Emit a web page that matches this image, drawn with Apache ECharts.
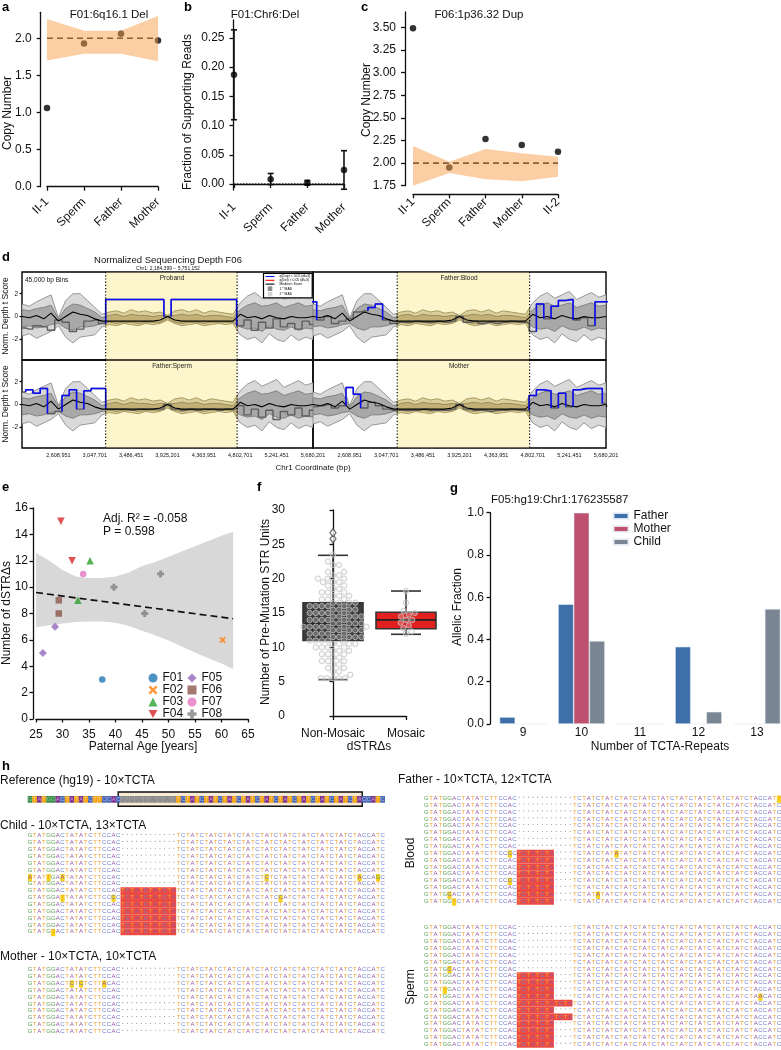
<!DOCTYPE html>
<html>
<head>
<meta charset="utf-8">
<title>Figure</title>
<script src="https://cdn.jsdelivr.net/npm/echarts@6/dist/echarts.min.js"></script>
<style>
html,body{margin:0;padding:0;background:#ffffff;}
#chart{width:781px;height:1050px;}
</style>
</head>
<body>
<div id="chart"></div>
<script>
// ================= DATA =================
// ---- panel a ----
const aCats = ['II-1', 'Sperm', 'Father', 'Mother'];
const aCopyNumber = [1.06, 1.93, 2.06, 1.97];
const aBandLow = [1.70, 1.79, 1.79, 1.69];
const aBandHigh = [2.26, 2.10, 2.10, 2.30];
const aExpected = [2, 2, 2, 2];
const aTicks = [0, 0.5, 1.0, 1.5, 2.0];
// ---- panel b ----
const bCats = ['II-1', 'Sperm', 'Father', 'Mother'];
const bFraction = [0.187, 0.008, 0.002, 0.024];
const bErrLow = [0.110, -0.001, -0.002, -0.009];
const bErrHigh = [0.264, 0.018, 0.006, 0.057];
const bBaseline = [0, 0, 0, 0];
const bTicks = [0, 0.05, 0.10, 0.15, 0.20, 0.25];
// ---- panel c ----
const cCats = ['II-1', 'Sperm', 'Father', 'Mother', 'II-2'];
const cCopyNumber = [3.49, 1.95, 2.265, 2.20, 2.125];
const cBandLow = [1.75, 1.89, 1.82, 1.80, 1.85];
const cBandHigh = [2.19, 2.015, 2.155, 2.11, 2.07];
const cExpected = [2, 2, 2, 2, 2];
const cTicks = [1.75, 2.00, 2.25, 2.50, 2.75, 3.00, 3.25, 3.50];
// ---- panel d (45 kb bins, shown every 2nd bin) ----
const dOriginBp = 2170201;
const dBinStep = 87750;
const dTickStep = 438750;
const dSpan = 3510000;
const dYellowBp = [3179000, 4765000];
const dTicksY = [-2, 0, 2];
const dMad2High = [1.1,0.9,1.3,1.6,1.9,-0.1,1.4,2.0,2.0,1.4,0.8,0.2,
  0.4,0.5,0.3,0.6,0.4,0.5,0.3,0.4,0.1,0.5,0.6,0.4,0.6,0.3,0.5,0.4,0.3,0.2,
  1.2,1.8,2.1,1.6,1.9,2.2,1.5,1.8,2.1,1.7,1.9];
const dMad2Low = [-1.7,-1.5,-1.9,-1.6,-1.3,-0.8,-1.8,-2.3,-1.8,-1.7,-1.6,-0.9,
  -0.7,-0.8,-0.6,-0.7,-0.8,-0.6,-0.7,-0.6,-0.3,-0.6,-0.8,-0.7,-0.6,-0.8,-0.7,-0.6,-0.7,-0.6,
  -1.6,-2.0,-1.8,-2.3,-1.5,-2.0,-2.2,-1.6,-2.1,-1.8,-2.0];
const dMad1High = [0.6,0.5,0.7,0.8,1.0,-0.2,0.7,1.1,1.0,0.7,0.4,-0.1,
  0.1,0.2,0.0,0.2,0.1,0.1,0.0,0.1,0.05,0.1,0.2,0.1,0.2,0.0,0.1,0.1,0.0,-0.1,
  0.6,1.0,1.2,0.9,1.0,1.2,0.8,1.0,1.2,0.9,1.0];
const dMad1Low = [-0.9,-0.8,-1.0,-0.9,-0.7,-0.6,-1.0,-1.2,-0.9,-0.9,-0.8,-0.6,
  -0.5,-0.6,-0.5,-0.5,-0.6,-0.5,-0.5,-0.5,-0.15,-0.5,-0.6,-0.5,-0.5,-0.6,-0.5,-0.5,-0.5,-0.5,
  -0.9,-1.1,-1.0,-1.3,-0.8,-1.1,-1.2,-0.9,-1.2,-1.0,-1.1];
const dMedian = [0.0,-0.1,0.1,-0.2,0.3,-0.4,0.0,0.4,0.2,0.1,-0.2,-0.4,
  -0.4,-0.4,-0.4,-0.4,-0.4,-0.4,-0.4,-0.3,0.0,-0.3,-0.4,-0.4,-0.4,-0.4,-0.4,-0.4,-0.4,-0.4,
  0.2,-0.1,0.0,-0.2,0.1,-0.1,-0.2,0.0,-0.1,-0.1,0.0];
const dProband = [-1.0,-1.1,-0.8,-0.9,-1.2,-0.3,-0.5,-1.3,-1.1,-0.4,-0.3,-0.6,
  1.5,1.5,1.5,1.5,1.5,1.5,1.5,1.5,0.0,1.5,1.5,1.5,1.5,1.5,1.5,1.5,1.5,1.5,
  -0.8,-0.3,-1.2,-0.5,-1.0,-0.2,-0.9,-0.6,-1.1,-0.4,-0.7];
const dBlood = [1.3,-0.3,0.0,-0.6,-0.4,-0.2,0.4,0.5,0.8,1.1,-0.3,-0.6,
  -0.5,-0.5,-0.4,-0.5,-0.5,-0.4,-0.5,-0.4,0.0,-0.5,-0.4,-0.6,-0.5,-0.6,-0.5,-0.4,-0.5,-0.5,
  -1.3,1.1,-0.2,0.9,1.4,1.5,-0.3,-0.1,-0.8,1.3,1.3];
const dSperm = [1.1,1.3,1.0,1.4,-0.8,-0.6,0.8,1.3,-0.4,1.2,1.4,1.4,
  -0.4,-0.4,-0.4,-0.5,-0.4,-0.4,-0.4,-0.4,0.0,-0.4,-0.5,-0.4,-0.5,-0.4,-0.4,-0.5,-0.4,-0.4,
  -0.1,-0.9,-0.4,-1.1,-0.5,-1.3,-0.6,-0.9,-0.3,-1.0,-0.5];
const dMother = [-0.2,-0.1,0.0,-0.3,-0.1,1.5,0.9,-0.3,0.2,-0.1,-0.4,-0.5,
  -0.5,-0.5,-0.5,-0.4,-0.5,-0.5,-0.5,-0.4,0.0,-0.4,-0.5,-0.5,-0.6,-0.5,-0.5,-0.4,-0.5,-0.5,
  0.8,1.3,1.2,-0.3,1.0,-0.2,1.3,1.4,1.4,1.4,0.1];
const dDupProband = [[12,19],[21,29]];
const dDupBlood = [[0,0],[8,9],[31,31],[33,35],[39,40]];
const dDupSperm = [[1,3],[6,7],[9,11]];
const dDupMother = [[5,6],[30,32],[34,34],[36,39]];
// ---- panel e ----
const eF01 = [[37.5, 3]];
const eF02 = [[60.2, 6]];
const eF03 = [[35.2, 12], [32.9, 9]];
const eF04 = [[29.7, 15], [31.8, 12]];
const eF05 = [[26.3, 5], [28.6, 7]];
const eF06 = [[29.3, 9], [29.3, 8]];
const eF07 = [[33.9, 11]];
const eF08 = [[39.7, 10], [45.5, 8], [48.5, 11]];
const eFitAge = [25, 62.2];
const eFitCount = [9.59, 7.6];
const eCiAge = [25, 27.5, 30, 32.5, 35, 37.5, 40, 42.5, 45, 47.5, 50, 52.5, 55, 57.5, 60, 62.2];
const eCiHigh = [12.6, 12.0, 11.3, 10.8, 10.7, 10.7, 10.8, 11.1, 11.6, 11.9, 12.3, 12.7, 13.1, 13.5, 13.9, 14.2];
const eCiLow = [6.95, 7.1, 7.25, 7.35, 7.4, 7.4, 7.3, 7.05, 6.7, 6.35, 5.95, 5.5, 5.05, 4.6, 4.2, 3.8];
// ---- panel f ----
const fCats = ['Non-Mosaic', 'Mosaic'];
const fNonMosaic = [5.5,5.5,5.5,5.5,5.5,6,6.5,6.5,7,7,7.5,7.5,8,8,8,8.5,8.5,9,9,9,9.5,9.5,9.5,
  10,10,10,10,10.5,10.5,10.5,10.5,11,11,11,11,11,11.5,11.5,11.5,11.5,11.5,12,12,12,12,12,
  12.5,12.5,12.5,12.5,12.5,13,13,13,13,13,13,13,13.5,13.5,13.5,13.5,13.5,14,14,14,14,14,
  14.5,14.5,14.5,14.5,14.5,15,15,15,15,15,15.5,15.5,15.5,15.5,16,16,16,16,16,16.5,16.5,16.5,16.5,
  17,17,17,17.5,17.5,17.5,18,18,18,18.5,18.5,19,19,19.5,19.5,19.5,20,20,20,20.5,20.5,21,21,22,22,22.5,23.5];
const fMosaic = [12.0, 12.3, 12.8, 13.2, 13.6, 14.0, 14.0, 14.5, 14.8, 15.0, 15.3, 16.5, 18.2];
const fBoxNonMosaic = [5.3, 11.0, 13.4, 16.5, 23.4];   // whisker low, Q1, median, Q3, whisker high
const fBoxMosaic = [11.9, 12.7, 14.0, 15.1, 18.2];
const fOutliers = [25.8, 26.7];
// ---- panel g ----
const gRepeats = ['9', '10', '11', '12', '13'];
const gFather = [0.033, 0.567, 0, 0.366, 0];
const gMother = [0, 1.0, 0, 0, 0];
const gChild = [0, 0.393, 0, 0.058, 0.545];
// ---- panel h ----
const hLeft = 'GTATGGACTATATCTTCCAC';
const hInsert = 'TCTATCTATCTA';
const hRepeat = 'TCTATCTATCTATCTATCTATCTATCTATCTATCTATCTA';
const hRight = 'CCATC';
const hChildIns = [0,0,0,0,0,0,0,0,12,12,12,12,12,12,12];
const hMotherIns = [0,0,0,0,0,0,0,0,0,0];
const hBloodIns = [0,0,0,0,0,0,0,0,8,8,8,8,8,8,8,8];
const hSpermIns = [0,0,0,0,0,0,0,8,8,8,8,12,8,12,8,8,8,8];
const hChildMis = [[6,0,'A'],[6,4,'T'],[6,7,'A'],[6,51,'C'],[6,71,'A'],[6,75,'G'],[9,7,'T'],[9,18,'C'],[9,54,'C'],[14,5,'T']];
const hMotherMis = [[2,9,'C'],[2,11,'C'],[2,16,'A']];
const hBloodMis = [[0,76,'T'],[8,18,'C'],[8,41,'A'],[12,18,'C'],[14,5,'C'],[14,37,'A'],[15,6,'T']];
const hSpermMis = [[6,5,'C'],[9,4,'T'],[10,72,'A']];

// ================= BUILD =================
const FONT = 'Liberation Sans';
const INK = '#111111';
const grids = [], xAxes = [], yAxes = [], series = [], graphics = [];

function axisLine(show) { return {show: show, lineStyle: {color: INK, width: 1.3}}; }
function tick(show, len, custom) { const t = {show: show, length: len || 4, inside: false, lineStyle: {color: INK, width: 1.3}}; if (custom) t.customValues = custom; return t; }
function label(extra) { return Object.assign({color: INK, fontSize: 12, fontFamily: FONT}, extra || {}); }
function addGrid(g) { grids.push(Object.assign({containLabel: false, outerBoundsMode: 'none'}, g)); return grids.length - 1; }
function text(x, y, str, o) {
  o = o || {};
  graphics.push({type: 'text', x: x, y: y, rotation: o.rot || 0, silent: true, z: 100,
    style: {text: str, fontSize: o.fs || 12, fontFamily: FONT, fontWeight: o.fw || 'normal', fill: o.color || INK,
      align: o.align || 'left', textAlign: o.align || 'left', verticalAlign: o.va || 'middle', textVerticalAlign: o.va || 'middle'}});
}

// ---------- panel a ----------
const gA = addGrid({left: 47, top: 12.3, width: 111, height: 174.4});
xAxes.push({gridIndex: gA, type: 'category', data: aCats, boundaryGap: false, offset: 7.3,
  axisLine: axisLine(true), axisTick: tick(true, 4), axisLabel: label({rotate: 45, margin: 6, interval: 0}), splitLine: {show: false}});
yAxes.push({gridIndex: gA, type: 'value', min: 0, max: 2.35, offset: 6.3,
  axisLine: axisLine(true), axisTick: tick(true, 4, aTicks),
  axisLabel: label({customValues: aTicks, margin: 9, formatter: v => v.toFixed(1)}), splitLine: {show: false}});
series.push({type: 'scatter', xAxisIndex: gA, yAxisIndex: gA, data: aCopyNumber, symbolSize: 6.5, itemStyle: {color: '#000'}, z: 2, silent: true});
series.push({type: 'line', xAxisIndex: gA, yAxisIndex: gA, data: aExpected, symbol: 'none', lineStyle: {color: '#222', width: 1.6, type: [6, 4]}, z: 3, silent: true});
series.push({type: 'line', xAxisIndex: gA, yAxisIndex: gA, data: aBandLow, stack: 'aBand', symbol: 'none', lineStyle: {width: 0}, z: 5, silent: true});
series.push({type: 'line', xAxisIndex: gA, yAxisIndex: gA, data: aBandHigh.map((v, i) => v - aBandLow[i]), stack: 'aBand', symbol: 'none', lineStyle: {width: 0}, areaStyle: {color: 'rgba(247,158,74,0.5)', opacity: 1}, z: 5, silent: true});

// ---------- panel b ----------
const gB = addGrid({left: 234, top: 20, width: 110, height: 170});
xAxes.push({gridIndex: gB, type: 'category', data: bCats, boundaryGap: false, offset: 9.3,
  axisLine: axisLine(true), axisTick: tick(true, 4), axisLabel: label({rotate: 45, margin: 6, interval: 0}), splitLine: {show: false}});
yAxes.push({gridIndex: gB, type: 'value', min: -0.0103, max: 0.2808, offset: 0.5,
  axisLine: axisLine(true), axisTick: tick(true, 4, bTicks),
  axisLabel: label({customValues: bTicks, margin: 9, formatter: v => v.toFixed(2)}), splitLine: {show: false}});
series.push({type: 'line', xAxisIndex: gB, yAxisIndex: gB, data: bBaseline, symbol: 'none', lineStyle: {color: '#000', width: 1.2, type: [1.5, 1.5]}, z: 2, silent: true});
series.push({type: 'custom', xAxisIndex: gB, yAxisIndex: gB, silent: true, z: 3,
  data: bCats.map((c, i) => [i, bErrLow[i], bErrHigh[i]]),
  renderItem: function (p, api) {
    const lo = api.coord([api.value(0), api.value(1)]);
    const hi = api.coord([api.value(0), api.value(2)]);
    const x = lo[0], cap = 3;
    const st = {stroke: '#111', lineWidth: 1.6};
    return {type: 'group', children: [
      {type: 'line', shape: {x1: x, y1: lo[1], x2: x, y2: hi[1]}, style: st},
      {type: 'line', shape: {x1: x - cap, y1: lo[1], x2: x + cap, y2: lo[1]}, style: st},
      {type: 'line', shape: {x1: x - cap, y1: hi[1], x2: x + cap, y2: hi[1]}, style: st}
    ]};
  }});
series.push({type: 'scatter', xAxisIndex: gB, yAxisIndex: gB, data: bFraction, symbolSize: 6.5, itemStyle: {color: '#000'}, z: 4, silent: true});

// ---------- panel c ----------
const gC = addGrid({left: 413, top: 12, width: 145, height: 173.7});
xAxes.push({gridIndex: gC, type: 'category', data: cCats, boundaryGap: false, offset: 8.6,
  axisLine: axisLine(true), axisTick: tick(true, 4), axisLabel: label({rotate: 45, margin: 6, interval: 0}), splitLine: {show: false}});
yAxes.push({gridIndex: gC, type: 'value', min: 1.75, max: 3.67, offset: 8,
  axisLine: axisLine(true), axisTick: tick(true, 4, cTicks),
  axisLabel: label({customValues: cTicks, margin: 9, formatter: v => v.toFixed(2)}), splitLine: {show: false}});
series.push({type: 'scatter', xAxisIndex: gC, yAxisIndex: gC, data: cCopyNumber, symbolSize: 6.5, itemStyle: {color: '#000'}, z: 2, silent: true});
series.push({type: 'line', xAxisIndex: gC, yAxisIndex: gC, data: cExpected, symbol: 'none', lineStyle: {color: '#222', width: 1.6, type: [6, 4]}, z: 3, silent: true});
series.push({type: 'line', xAxisIndex: gC, yAxisIndex: gC, data: cBandLow, stack: 'cBand', symbol: 'none', lineStyle: {width: 0}, z: 5, silent: true});
series.push({type: 'line', xAxisIndex: gC, yAxisIndex: gC, data: cBandHigh.map((v, i) => v - cBandLow[i]), stack: 'cBand', symbol: 'none', lineStyle: {width: 0}, areaStyle: {color: 'rgba(247,158,74,0.5)', opacity: 1}, z: 5, silent: true});

// ---------- panel d ----------
const dX = dMedian.map((_, i) => i * dBinStep);
const dYel = dYellowBp.map(b => b - dOriginBp);
const D_YMIN = -3.8, D_YMAX = 3.9;
function interpAt(ys, x) {
  for (let i = 0; i < dX.length - 1; i++) {
    if (x >= dX[i] && x <= dX[i + 1]) { const t = (x - dX[i]) / (dX[i + 1] - dX[i]); return ys[i] + t * (ys[i + 1] - ys[i]); }
  }
  return ys[ys.length - 1];
}
function rangePts(ys, xa, xb) {
  const out = [[xa, interpAt(ys, xa)]];
  for (let i = 0; i < dX.length; i++) if (dX[i] > xa && dX[i] < xb) out.push([dX[i], ys[i]]);
  out.push([xb, interpAt(ys, xb)]);
  return out;
}
function bandSeries(gi, lo, hi, xa, xb, fill, stroke, z, name) {
  return {type: 'custom', name: name, xAxisIndex: gi, yAxisIndex: gi, z: z, silent: true, clip: true,
    itemStyle: {color: fill}, data: [[xa, 0]],
    renderItem: function (p, api) {
      const up = rangePts(hi, xa, xb).map(q => api.coord(q));
      const dn = rangePts(lo, xa, xb).map(q => api.coord(q)).reverse();
      return {type: 'polygon', shape: {points: up.concat(dn)}, style: {fill: fill, stroke: stroke, lineWidth: 0.9}};
    }};
}
function dupPts(sample, ranges) {
  const h = dBinStep / 2, pts = [];
  ranges.forEach(function (r) {
    const a = r[0], b = r[1];
    const prev = a > 0 ? sample[a - 1] : sample[a];
    const next = b < sample.length - 1 ? sample[b + 1] : sample[b];
    pts.push([dX[a] - h, prev]);
    for (let i = a; i <= b; i++) { pts.push([dX[i] - h, sample[i]]); pts.push([dX[i] + h, sample[i]]); }
    pts.push([dX[b] + h, next]);
    pts.push([dX[b] + h, null]);
  });
  return pts;
}
const dPanels = [
  {left: 22, top: 272, width: 291, sample: dProband, dup: dDupProband, yLab: true, xLab: false, title: 'Proband'},
  {left: 313, top: 272, width: 293, sample: dBlood, dup: dDupBlood, yLab: false, xLab: false, title: 'Father:Blood'},
  {left: 22, top: 360, width: 291, sample: dSperm, dup: dDupSperm, yLab: true, xLab: true, title: 'Father:Sperm'},
  {left: 313, top: 360, width: 293, sample: dMother, dup: dDupMother, yLab: false, xLab: true, title: 'Mother'}
];
dPanels.forEach(function (P, k) {
  const gi = addGrid({left: P.left, top: P.top, width: P.width, height: 88, show: true, borderColor: '#000', borderWidth: 1.4, backgroundColor: 'transparent'});
  xAxes.push({gridIndex: gi, type: 'value', min: 0, max: dSpan, interval: dTickStep,
    axisLine: {show: false}, axisTick: tick(P.xLab, 2.5),
    axisLabel: label({show: P.xLab, fontSize: 5.5, margin: 4, showMinLabel: false, formatter: v => (v + dOriginBp).toLocaleString('en-US')}),
    splitLine: {show: false}});
  yAxes.push({gridIndex: gi, type: 'value', min: D_YMIN, max: D_YMAX,
    axisLine: {show: false}, axisTick: tick(P.yLab, 2.5, dTicksY),
    axisLabel: label({show: P.yLab, fontSize: 6.5, margin: 4, customValues: dTicksY}), splitLine: {show: false}});
  series.push({type: 'custom', xAxisIndex: gi, yAxisIndex: gi, z: 0, silent: true, data: [[dYel[0], 0]],
    renderItem: function (p, api) {
      const a = api.coord([dYel[0], D_YMAX]), b = api.coord([dYel[1], D_YMIN]);
      return {type: 'rect', shape: {x: a[0], y: a[1] + 0.8, width: b[0] - a[0], height: b[1] - a[1] - 1.6}, style: {fill: '#fdf5cb'}};
    }});
  series.push(bandSeries(gi, dMad2Low, dMad2High, 0, dYel[0], '#d9d9d9', '#8d8d8d', 1, '2 * MAD'));
  series.push(bandSeries(gi, dMad2Low, dMad2High, dYel[1], dSpan, '#d9d9d9', '#8d8d8d', 1, '2 * MAD'));
  series.push(bandSeries(gi, dMad1Low, dMad1High, 0, dYel[0], '#a8a8a8', '#7a7a7a', 2, '1 * MAD'));
  series.push(bandSeries(gi, dMad1Low, dMad1High, dYel[1], dSpan, '#a8a8a8', '#7a7a7a', 2, '1 * MAD'));
  series.push(bandSeries(gi, dMad2Low, dMad2High, dYel[0], dYel[1], '#dcd09a', '#a0925a', 1, 'olive2'));
  series.push(bandSeries(gi, dMad1Low, dMad1High, dYel[0], dYel[1], '#c1b176', '#948553', 2, 'olive1'));
  series.push({type: 'line', xAxisIndex: gi, yAxisIndex: gi, step: 'middle', symbol: 'none', silent: true, z: 3,
    data: dX.map((x, i) => [x, P.sample[i]]), lineStyle: {color: '#5e5e5e', width: 1.4}});
  series.push({type: 'line', name: 'Median t Score', xAxisIndex: gi, yAxisIndex: gi, symbol: 'none', silent: true, z: 4,
    data: dX.map((x, i) => [x, dMedian[i]]), lineStyle: {color: '#000', width: 1.1}, itemStyle: {color: '#000'}});
  series.push({type: 'line', name: 'q(Dup) < 0.05 (df=3)', xAxisIndex: gi, yAxisIndex: gi, symbol: 'none', silent: true, z: 5,
    connectNulls: false, data: dupPts(P.sample, P.dup), lineStyle: {color: '#0a0aff', width: 1.5}, itemStyle: {color: '#0a0aff'}});
  if (k === 0) {
    series.push({type: 'line', name: 'q(Del) < 0.05 (df=3)', xAxisIndex: gi, yAxisIndex: gi, symbol: 'none', silent: true, data: [], lineStyle: {color: '#ff0000'}, itemStyle: {color: '#ff0000'}});
  }
  series.push({type: 'custom', xAxisIndex: gi, yAxisIndex: gi, z: 6, silent: true, data: [[dYel[0], 0]],
    renderItem: function (p, api) {
      const st = {stroke: '#000', lineWidth: 1.2, lineDash: [1.2, 2]};
      const ch = dYel.map(function (xv) {
        const a = api.coord([xv, D_YMAX]), b = api.coord([xv, D_YMIN]);
        return {type: 'line', shape: {x1: a[0], y1: a[1], x2: b[0], y2: b[1]}, style: st};
      });
      return {type: 'group', children: ch};
    }});
  text(P.left + (k % 2 === 0 ? 150 : 146), P.top + 6.5, P.title, {fs: 6.5, align: 'center', color: '#222'});
});

// ---------- panel e ----------
const gE = addGrid({left: 36, top: 508, width: 212, height: 211});
xAxes.push({gridIndex: gE, type: 'value', min: 25, max: 65, interval: 5, offset: 4,
  axisLine: axisLine(true), axisTick: tick(true, 3.5), axisLabel: label({margin: 6}), splitLine: {show: false}});
yAxes.push({gridIndex: gE, type: 'value', min: 0, max: 16, interval: 2, offset: 3,
  axisLine: axisLine(true), axisTick: tick(true, 3.5), axisLabel: label({margin: 5}), splitLine: {show: false}});
series.push({type: 'custom', xAxisIndex: gE, yAxisIndex: gE, z: 1, silent: true, data: [[eCiAge[0], eCiLow[0]]],
  renderItem: function (p, api) {
    const pts = eCiAge.map((x, i) => api.coord([x, eCiHigh[i]]));
    for (let i = eCiAge.length - 1; i >= 0; i--) pts.push(api.coord([eCiAge[i], eCiLow[i]]));
    return {type: 'polygon', shape: {points: pts}, style: {fill: '#d8d8d8'}};
  }});
series.push({type: 'line', xAxisIndex: gE, yAxisIndex: gE, data: eFitAge.map((x, i) => [x, eFitCount[i]]), symbol: 'none', silent: true, z: 2,
  lineStyle: {color: '#111', width: 1.7, type: [7, 4]}});
const P_X = 'path://M0,2 L2,0 L5,3 L8,0 L10,2 L7,5 L10,8 L8,10 L5,7 L2,10 L0,8 L3,5 Z';
const P_DOWN = 'path://M0,0 L10,0 L5,9 Z';
const P_PLUS = 'path://M3,0 H7 V3 H10 V7 H7 V10 H3 V7 H0 V3 H3 Z';
const eGroups = [
  ['F01', eF01, 'circle', '#1f77b4', 6.5], ['F02', eF02, P_X, '#ff7f0e', 6.5],
  ['F03', eF03, 'triangle', '#2ca02c', 7.5], ['F04', eF04, P_DOWN, '#d62728', 7.5],
  ['F05', eF05, 'diamond', '#9467bd', 8], ['F06', eF06, 'rect', '#8c564b', 6.5],
  ['F07', eF07, 'circle', '#e377c2', 6.5], ['F08', eF08, P_PLUS, '#7f7f7f', 7]
];
eGroups.forEach(function (g) {
  series.push({type: 'scatter', name: g[0], xAxisIndex: gE, yAxisIndex: gE, data: g[1], symbol: g[2], symbolSize: g[4], itemStyle: {color: g[3]}, z: 4, silent: true});
});

// ---------- panel f ----------
const gF = addGrid({left: 333, top: 510, width: 73, height: 206});
xAxes.push({gridIndex: gF, type: 'value', min: 0, max: 1, offset: 6,
  axisLine: axisLine(true), axisTick: tick(true, 4, [0, 1]),
  axisLabel: label({customValues: [0, 1], margin: 6, formatter: v => fCats[Math.round(v)]}), splitLine: {show: false}});
yAxes.push({gridIndex: gF, type: 'value', min: 0, max: 30, interval: 5, offset: 43,
  axisLine: axisLine(true), axisTick: tick(true, 3.5), axisLabel: label({margin: 5}), splitLine: {show: false}});
series.push({type: 'custom', xAxisIndex: gF, yAxisIndex: gF, z: 2, silent: true, clip: false,
  data: [[0].concat(fBoxNonMosaic), [1].concat(fBoxMosaic)],
  renderItem: function (p, api) {
    const x = api.value(0);
    const y = v => api.coord([x, v])[1];
    const cx = api.coord([x, 0])[0];
    const lw = api.value(1), q1 = api.value(2), md = api.value(3), q3 = api.value(4), hw = api.value(5);
    const half = 30, cap = 15;
    const fill = p.dataIndex === 0 ? '#3b3b3b' : '#e32020';
    const st = {stroke: '#333', lineWidth: 1.6};
    return {type: 'group', children: [
      {type: 'line', shape: {x1: cx, y1: y(lw), x2: cx, y2: y(q1)}, style: st},
      {type: 'line', shape: {x1: cx, y1: y(q3), x2: cx, y2: y(hw)}, style: st},
      {type: 'line', shape: {x1: cx - cap, y1: y(lw), x2: cx + cap, y2: y(lw)}, style: st},
      {type: 'line', shape: {x1: cx - cap, y1: y(hw), x2: cx + cap, y2: y(hw)}, style: st},
      {type: 'rect', shape: {x: cx - half, y: y(q3), width: 2 * half, height: y(q1) - y(q3)}, style: {fill: fill, stroke: '#333', lineWidth: 1.6}},
      {type: 'line', shape: {x1: cx - half, y1: y(md), x2: cx + half, y2: y(md)}, style: {stroke: '#222', lineWidth: 1.6}}
    ]};
  }});
function beeswarm(vals, pxPerUnit, diam, pxPerX) {
  const placed = [], res = [];
  vals.slice().sort((a, b) => a - b).forEach(function (v) {
    const yy = v * pxPerUnit;
    const cands = [0];
    placed.forEach(function (q) {
      const dy = Math.abs(q.y - yy);
      if (dy < diam) { const dx = Math.sqrt(diam * diam - dy * dy); cands.push(q.x + dx, q.x - dx); }
    });
    cands.sort((m, n) => Math.abs(m) - Math.abs(n));
    let xo = 0;
    for (const c of cands) {
      if (placed.every(q => (q.x - c) * (q.x - c) + (q.y - yy) * (q.y - yy) >= diam * diam - 0.01)) { xo = c; break; }
    }
    placed.push({x: xo, y: yy});
    res.push([xo / pxPerX, v]);
  });
  return res;
}
const fSwarmNon = beeswarm(fNonMosaic, 206 / 30, 6.1, 73).map(q => [0 + q[0], q[1]]);
const fSwarmMos = beeswarm(fMosaic, 206 / 30, 6.1, 73).map(q => [1 + q[0], q[1]]);
series.push({type: 'scatter', xAxisIndex: gF, yAxisIndex: gF, data: fSwarmNon.concat(fSwarmMos), symbolSize: 5.4, clip: false, z: 3, silent: true,
  itemStyle: {color: 'rgba(235,235,235,0.35)', borderColor: '#c2c2c2', borderWidth: 1}});
series.push({type: 'scatter', xAxisIndex: gF, yAxisIndex: gF, data: fOutliers.map(v => [0, v]), symbol: 'diamond', symbolSize: [6, 8], clip: false, z: 3, silent: true,
  itemStyle: {color: '#ffffff', borderColor: '#4a4a4a', borderWidth: 1.3}});

// ---------- panel g ----------
const gG = addGrid({left: 493.75, top: 512.7, width: 292.5, height: 211.3});
xAxes.push({gridIndex: gG, type: 'category', data: gRepeats, boundaryGap: true,
  axisLine: {show: false}, axisTick: {show: false}, axisLabel: label({margin: 3}), splitLine: {show: false}});
yAxes.push({gridIndex: gG, type: 'value', min: 0, max: 1, interval: 0.2, offset: 3.75,
  axisLine: axisLine(true), axisTick: tick(true, 3.5), axisLabel: label({margin: 6, formatter: v => v.toFixed(1)}), splitLine: {show: false}});
[['Father', gFather, '#3f6fa9'], ['Mother', gMother, '#bd506f'], ['Child', gChild, '#7a8693']].forEach(function (s) {
  series.push({type: 'bar', name: s[0], xAxisIndex: gG, yAxisIndex: gG, data: s[1], barWidth: 15.6, barGap: '0%', silent: true,
    itemStyle: {color: s[2], borderColor: 'rgba(235,240,248,0.9)', borderWidth: 0.6}});
});

// ---------- panel h ----------
const BASE_COL = {G: '#5c9f55', T: '#f2a531', A: '#9558a2', C: '#6d7ed0'};
const REF_BG = {G: '#2e8b3f', T: '#f5a20f', A: '#7c2f8c', C: '#4463b6', '.': '#8c8c8c'};
const NCOL = hLeft.length + 12 + hRepeat.length + hRight.length;
function buildRow(ins) { return hLeft + hInsert.slice(0, ins) + '.'.repeat(12 - ins) + hRepeat + hRight; }
function seqBlock(left, top, rowH, insArr, mis, isRef) {
  const gi = addGrid({left: left, top: top, width: NCOL * 4.64, height: insArr.length * rowH});
  xAxes.push({gridIndex: gi, type: 'value', min: 0, max: NCOL, show: false});
  yAxes.push({gridIndex: gi, type: 'value', min: 0, max: insArr.length, inverse: true, show: false});
  const misMap = {};
  mis.forEach(m => { misMap[m[0] + '_' + m[1]] = m[2]; });
  series.push({type: 'custom', xAxisIndex: gi, yAxisIndex: gi, silent: true, clip: false, z: 2,
    data: insArr.map((ins, r) => [r, ins]),
    renderItem: function (params, api) {
      const r = api.value(0), ins = api.value(1);
      const p0 = api.coord([0, r]), p1 = api.coord([1, r + 1]);
      const cw = p1[0] - p0[0], rh = p1[1] - p0[1];
      const str = buildRow(ins);
      const ch = [];
      if (isRef) {
        const bx0 = api.coord([19.5, r])[0], bx1 = api.coord([72.1, r])[0];
        ch.push({type: 'rect', shape: {x: bx0, y: p0[1] - 4, width: bx1 - bx0, height: rh + 7.5}, style: {fill: '#f7e9d3', stroke: '#111', lineWidth: 1.4}});
      }
      if (ins > 0) ch.push({type: 'rect', shape: {x: p0[0] + 20 * cw, y: p0[1], width: ins * cw, height: rh}, style: {fill: '#ec4b44'}});
      for (let c = 0; c < NCOL; c++) {
        let b = str[c];
        const key = r + '_' + c;
        const cx = p0[0] + (c + 0.5) * cw, cy = p0[1] + rh / 2;
        if (isRef) {
          ch.push({type: 'rect', shape: {x: p0[0] + c * cw, y: p0[1], width: cw + 0.05, height: rh}, style: {fill: REF_BG[b]}});
          if (b === '.') ch.push({type: 'circle', shape: {cx: cx, cy: cy - 1, r: 0.5}, style: {fill: '#c8c8c8'}});
          else ch.push({type: 'text', style: {text: b, x: cx, y: cy, fill: 'rgba(255,255,255,0.55)', font: '5.5px "Liberation Sans"', align: 'center', textAlign: 'center', verticalAlign: 'middle', textVerticalAlign: 'middle'}});
          continue;
        }
        if (misMap[key]) {
          b = misMap[key];
          ch.push({type: 'rect', shape: {x: p0[0] + c * cw + 0.2, y: p0[1] + 0.6, width: cw - 0.4, height: rh + 0.4}, style: {fill: '#f7d11b'}});
        }
        if (b === '.') ch.push({type: 'circle', shape: {cx: cx, cy: cy - 1.2, r: 0.55}, style: {fill: '#8f8f8f'}});
        else ch.push({type: 'text', style: {text: b, x: cx, y: cy, fill: BASE_COL[b], font: '6px "Liberation Sans"', align: 'center', textAlign: 'center', verticalAlign: 'middle', textVerticalAlign: 'middle'}});
      }
      return {type: 'group', children: ch};
    }});
}
seqBlock(27.7, 796, 6.7, [0], [], true);
seqBlock(27.7, 832.3, 6.86, hChildIns, hChildMis, false);
seqBlock(27.7, 965.9, 6.9, hMotherIns, hMotherMis, false);
seqBlock(424, 794.9, 6.86, hBloodIns, hBloodMis, false);
seqBlock(424, 924.3, 6.86, hSpermIns, hSpermMis, false);

// ---------- texts ----------
[['a', 2, 1], ['b', 184, 1], ['c', 361, 1], ['d', 2, 251], ['e', 2, 481], ['f', 257, 481], ['g', 450, 482], ['h', 2, 760]].forEach(function (t) {
  text(t[1], t[2], t[0], {fs: 13, fw: 'bold', va: 'top', color: '#000'});
});
text(109, 15, 'F01:6q16.1 Del', {fs: 11.5, align: 'center'});
text(265, 15, 'F01:Chr6:Del', {fs: 11.5, align: 'center'});
text(479, 15, 'F06:1p36.32 Dup', {fs: 11.5, align: 'center'});
text(8, 113, 'Copy Number', {fs: 12, align: 'center', rot: Math.PI / 2});
text(188, 112, 'Fraction of Supporting Reads', {fs: 12, align: 'center', rot: Math.PI / 2});
text(367, 100, 'Copy Number', {fs: 12, align: 'center', rot: Math.PI / 2});
text(168, 260, 'Normalized Sequencing Depth F06', {fs: 9.5, align: 'center'});
text(168, 269, 'Chr1: 2,184,399 \u2212 5,751,152', {fs: 5, align: 'center'});
text(25, 280, '45,000 bp Bins', {fs: 6.5});
text(6, 316, 'Norm. Depth t Score', {fs: 8.5, align: 'center', rot: Math.PI / 2});
text(6, 404, 'Norm. Depth t Score', {fs: 8.5, align: 'center', rot: Math.PI / 2});
text(313, 468, 'Chr1 Coordinate (bp)', {fs: 8, align: 'center'});
text(103, 519, 'Adj. R\u00b2 = -0.058', {fs: 12});
text(103, 532, 'P = 0.598', {fs: 12});
text(7, 613, 'Number of dSTR\u0394s', {fs: 12, align: 'center', rot: Math.PI / 2});
text(143, 747, 'Paternal Age [years]', {fs: 12, align: 'center'});
text(266, 612, 'Number of Pre-Mutation STR Units', {fs: 12, align: 'center', rot: Math.PI / 2});
text(369, 747, 'dSTR\u0394s', {fs: 12, align: 'center'});
text(491, 500, 'F05:hg19:Chr1:176235587', {fs: 11.5});
text(458, 607, 'Allelic Fraction', {fs: 12, align: 'center', rot: Math.PI / 2});
text(660, 747, 'Number of TCTA-Repeats', {fs: 12, align: 'center'});
text(0, 781, 'Reference (hg19) - 10\u00d7TCTA', {fs: 12});
text(0, 826, 'Child - 10\u00d7TCTA, 13\u00d7TCTA', {fs: 12});
text(0, 957, 'Mother - 10\u00d7TCTA, 10\u00d7TCTA', {fs: 12});
text(398, 780, 'Father - 10\u00d7TCTA, 12\u00d7TCTA', {fs: 12});
text(411, 853, 'Blood', {fs: 12, align: 'center', rot: Math.PI / 2});
text(411, 987, 'Sperm', {fs: 12, align: 'center', rot: Math.PI / 2});

// ---------- legends ----------
const LINE_ICON = 'path://M0,0H20V2.4H0Z';
const SQ_ICON = 'path://M0,0H10V10H0Z';
const legends = [
  {orient: 'vertical', left: 263.5, top: 273.5, padding: [1.5, 2, 1.5, 2], itemGap: 0.8, itemWidth: 9, itemHeight: 4.6,
    backgroundColor: '#ffffff', borderColor: '#000', borderWidth: 1.2, selectedMode: false,
    textStyle: {fontSize: 3.4, fontFamily: FONT, color: '#000'},
    data: [
      {name: 'q(Dup) < 0.05 (df=3)', icon: LINE_ICON, itemStyle: {color: '#0a0aff'}},
      {name: 'q(Del) < 0.05 (df=3)', icon: LINE_ICON, itemStyle: {color: '#ff0000'}},
      {name: 'Median t Score', icon: LINE_ICON, itemStyle: {color: '#000000'}},
      {name: '1 * MAD', icon: SQ_ICON, itemStyle: {color: '#8f8f8f'}},
      {name: '2 * MAD', icon: SQ_ICON, itemStyle: {color: '#d2d2d2'}}
    ]},
  {orient: 'vertical', left: 148.5, top: 672, padding: 0, itemGap: 0, itemWidth: 9, itemHeight: 9, selectedMode: false,
    textStyle: {fontSize: 12, lineHeight: 12, fontFamily: FONT, color: INK}, data: ['F01', 'F02', 'F03', 'F04']},
  {orient: 'vertical', left: 187.5, top: 672, padding: 0, itemGap: 0, itemWidth: 9, itemHeight: 9, selectedMode: false,
    textStyle: {fontSize: 12, lineHeight: 12, fontFamily: FONT, color: INK}, data: ['F05', 'F06', 'F07', 'F08']},
  {orient: 'vertical', left: 612.5, top: 509.5, padding: 0, itemGap: 0, itemWidth: 15, itemHeight: 6, selectedMode: false, icon: 'rect',
    textStyle: {fontSize: 12, lineHeight: 13, fontFamily: FONT, color: INK}, data: ['Father', 'Mother', 'Child']}
];

const chart = echarts.init(document.getElementById('chart'), null, {renderer: 'canvas', width: 781, height: 1050});
chart.setOption({
  animation: false,
  backgroundColor: '#ffffff',
  textStyle: {fontFamily: FONT},
  grid: grids,
  xAxis: xAxes,
  yAxis: yAxes,
  legend: legends,
  graphic: {elements: graphics},
  series: series
});
</script>
</body>
</html>
